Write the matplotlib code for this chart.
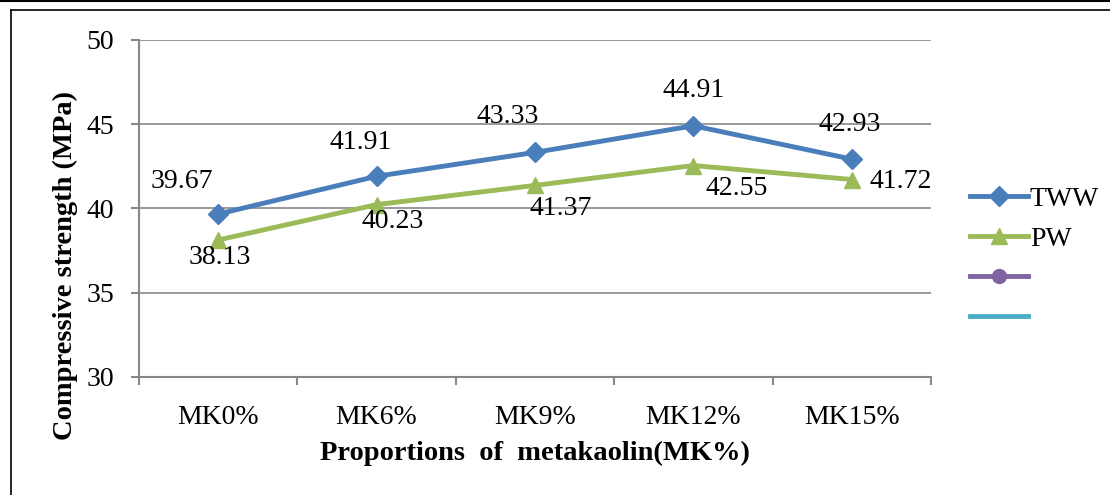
import matplotlib.pyplot as plt
from matplotlib.lines import Line2D

categories = ['MK0%', 'MK6%', 'MK9%', 'MK12%', 'MK15%']
tww = [39.67, 41.91, 43.33, 44.91, 42.93]
pw = [38.13, 40.23, 41.37, 42.55, 41.72]

plt.rcParams['font.family'] = ['Liberation Serif', 'DejaVu Serif']
FS = 20

fig = plt.figure(figsize=(11.1, 4.95), dpi=100)
ax = fig.add_axes([0.1252, 0.2384, 0.8387 - 0.1252, 0.9192 - 0.2384])

x = list(range(len(categories)))
ax.plot(x, tww, color='#4A7EBB', lw=3.5, marker='D', ms=10, label='TWW', zorder=3)
ax.plot(x, pw, color='#9BBB59', lw=3.5, marker='^', ms=12, label='PW', zorder=3)

# data labels (offsets in pixels)
tww_off = [(-36, 33), (-16, 34), (-27, 36), (0, 35), (-2, 35)]
pw_off = [(2, -17), (16, -17), (26, -23), (43, -23), (49, -2)]
for i in x:
    ax.annotate(f'{tww[i]:.2f}', (i, tww[i]), xytext=tww_off[i], textcoords='offset pixels',
                ha='center', va='center', fontsize=FS)
    ax.annotate(f'{pw[i]:.2f}', (i, pw[i]), xytext=pw_off[i], textcoords='offset pixels',
                ha='center', va='center', fontsize=FS)

ax.set_xlim(-0.5, len(categories) - 0.5)
ax.set_ylim(30, 50)
ax.set_yticks([30, 35, 40, 45, 50])
ax.set_xticks(x)
ax.set_xticklabels(categories, fontsize=FS)
ax.set_xticks([i - 0.5 for i in range(len(categories) + 1)], minor=True)
ax.tick_params(axis='x', which='major', length=0, pad=20)
ax.tick_params(axis='x', which='minor', length=6, color='#888888', width=1.5, direction='out')
ax.tick_params(axis='y', length=6, color='#888888', width=1.5, labelsize=FS, pad=12)
ax.grid(axis='y', color='#888888', lw=1.2)
ax.set_axisbelow(True)
for s in ['top', 'right']:
    ax.spines[s].set_visible(False)
for s in ['left', 'bottom']:
    ax.spines[s].set_color('#888888')
    ax.spines[s].set_linewidth(1.5)

ax.set_ylabel('Compressive strength (MPa)', fontsize=20.5, fontweight='bold')
ax.yaxis.set_label_coords(-0.077, 0.33)
ax.set_xlabel('Proportions  of  metakaolin(MK%)', fontsize=20.5, fontweight='bold', labelpad=8)

handles = [
    Line2D([], [], color='#4A7EBB', lw=3.5, marker='D', ms=10),
    Line2D([], [], color='#9BBB59', lw=3.5, marker='^', ms=12),
    Line2D([], [], color='#8064A2', lw=3.5, marker='o', ms=10),
    Line2D([], [], color='#4BACC6', lw=3.5),
]
fig.legend(handles, ['TWW', 'PW', '', ''], loc='upper left', bbox_to_anchor=(0.864, 0.646),
           frameon=False, fontsize=FS, handlelength=2.1, handletextpad=0.05,
           labelspacing=0.52, borderaxespad=0)

# outer frame lines
fig.add_artist(Line2D([0, 1], [0.998, 0.998], color='black', lw=1.5, transform=fig.transFigure))
fig.add_artist(Line2D([0.0099, 1], [0.980, 0.980], color='black', lw=1.2, transform=fig.transFigure))
fig.add_artist(Line2D([0.0099, 0.0099], [0, 0.980], color='black', lw=1.2, transform=fig.transFigure))

fig.savefig('out.png', dpi=100)
